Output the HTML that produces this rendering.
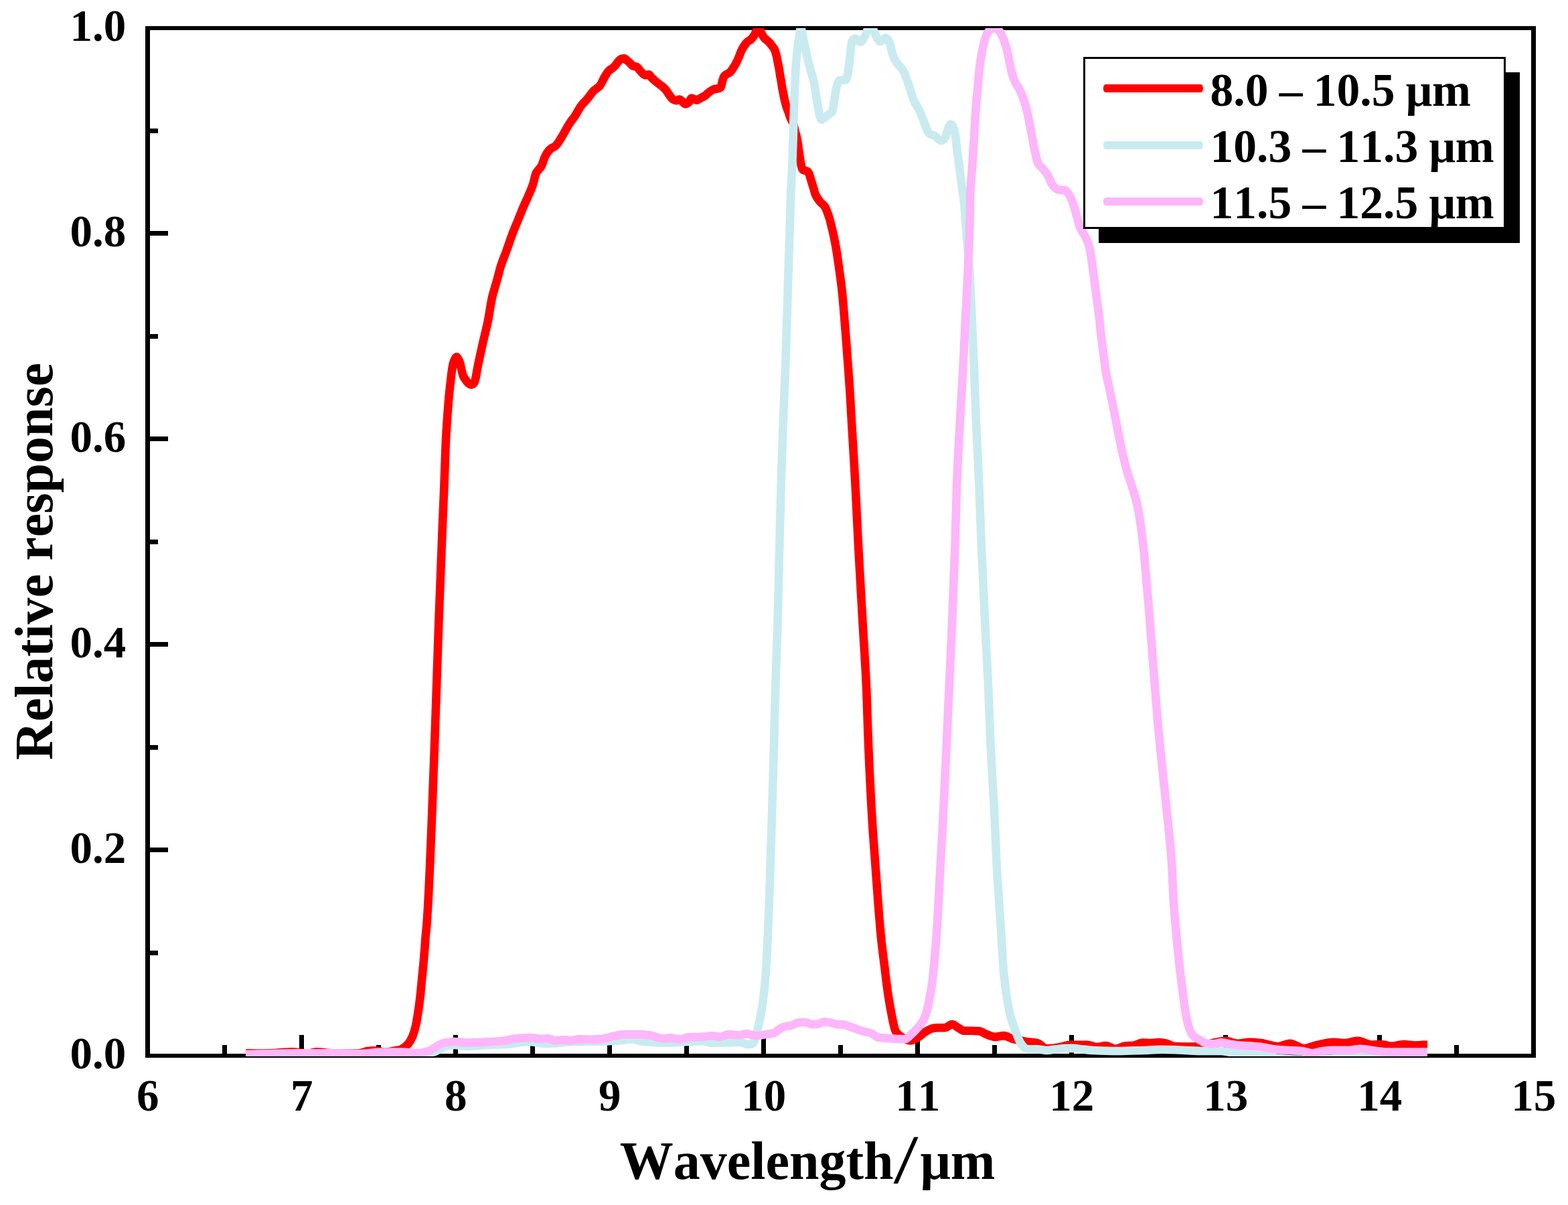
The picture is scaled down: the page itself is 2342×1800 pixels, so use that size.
<!DOCTYPE html>
<html lang="en"><head><meta charset="utf-8"><title>Relative response vs wavelength</title>
<style>html,body{margin:0;padding:0;background:#fff;}body{width:2342px;height:1800px;overflow:hidden;}svg{display:block;}text{font-family:"Liberation Serif","DejaVu Serif",serif;font-weight:bold;fill:#000;font-kerning:none;font-variant-ligatures:none;}</style></head><body>
<svg width="2342" height="1800" viewBox="0 0 2342 1800">
<rect x="0" y="0" width="2342" height="1800" fill="#fff"/>
<defs><clipPath id="plotclip"><rect x="217" y="42" width="2077" height="1536"/></clipPath></defs>
<g shape-rendering="crispEdges" fill="#000">
<rect x="217" y="39" width="2077" height="6"/>
<rect x="217" y="1574" width="2077" height="6"/>
<rect x="217" y="39" width="7" height="1541"/>
<rect x="2287" y="39" width="7" height="1541"/>
<rect x="217.0" y="1546" width="7" height="31"/>
<rect x="332.0" y="1561" width="7" height="16"/>
<rect x="447.0" y="1546" width="7" height="31"/>
<rect x="562.0" y="1561" width="7" height="16"/>
<rect x="677.0" y="1546" width="7" height="31"/>
<rect x="792.0" y="1561" width="7" height="16"/>
<rect x="907.0" y="1546" width="7" height="31"/>
<rect x="1022.0" y="1561" width="7" height="16"/>
<rect x="1137.0" y="1546" width="7" height="31"/>
<rect x="1252.0" y="1561" width="7" height="16"/>
<rect x="1367.0" y="1546" width="7" height="31"/>
<rect x="1482.0" y="1561" width="7" height="16"/>
<rect x="1597.0" y="1546" width="7" height="31"/>
<rect x="1712.0" y="1561" width="7" height="16"/>
<rect x="1827.0" y="1546" width="7" height="31"/>
<rect x="1942.0" y="1561" width="7" height="16"/>
<rect x="2057.0" y="1546" width="7" height="31"/>
<rect x="2172.0" y="1561" width="7" height="16"/>
<rect x="2287.0" y="1546" width="7" height="31"/>
<rect x="221" y="1419.5" width="15" height="7"/>
<rect x="221" y="1266.0" width="30" height="7"/>
<rect x="221" y="1112.5" width="15" height="7"/>
<rect x="221" y="959.0" width="30" height="7"/>
<rect x="221" y="805.5" width="15" height="7"/>
<rect x="221" y="652.0" width="30" height="7"/>
<rect x="221" y="498.5" width="15" height="7"/>
<rect x="221" y="345.0" width="30" height="7"/>
<rect x="221" y="191.5" width="15" height="7"/>
</g>
<g clip-path="url(#plotclip)" fill="none" stroke-width="12.6" stroke-linejoin="round" stroke-linecap="butt">
<path stroke="#ff0000" d="M367.0,1573.2L373.0,1573.2C379.3,1573.4 385.7,1573.5 392.0,1573.5C398.0,1573.5 404.0,1573.3 410.0,1573.0C414.7,1572.8 419.3,1572.2 424.0,1571.9C428.3,1571.6 432.6,1571.2 436.9,1571.2C440.6,1571.2 444.3,1572.1 448.0,1572.5C452.0,1572.9 456.0,1573.5 460.0,1573.5C464.6,1573.5 469.1,1571.2 473.7,1571.2C477.4,1571.2 481.2,1572.1 484.9,1572.4C489.9,1572.9 495.0,1573.6 500.0,1573.6C506.7,1573.6 513.3,1573.6 520.0,1573.6C525.3,1573.6 530.8,1573.5 536.0,1573.4C540.4,1573.3 544.5,1570.5 548.9,1570.0C552.1,1569.6 555.3,1569.2 558.5,1569.2C561.7,1569.2 564.9,1570.3 568.1,1570.8C570.8,1571.2 573.4,1571.9 576.1,1571.9C579.8,1571.9 583.6,1570.7 587.3,1570.0C591.1,1569.3 595.2,1568.8 598.6,1567.6C602.7,1566.2 607.0,1562.5 609.8,1559.2C612.4,1556.1 614.6,1551.9 616.2,1548.0C618.2,1542.9 619.8,1537.4 621.0,1532.0C622.5,1525.4 623.5,1518.7 624.5,1512.0C625.6,1504.6 626.7,1497.2 627.5,1489.8C628.2,1483.7 628.7,1477.6 629.3,1471.5C629.9,1465.4 630.5,1459.3 631.1,1453.2C631.7,1447.1 632.3,1441.0 632.8,1434.9C633.3,1428.8 633.9,1422.7 634.4,1416.6C634.9,1410.5 635.2,1404.4 635.7,1398.3C636.2,1392.2 637.1,1386.1 637.5,1380.0C641.0,1330.1 642.6,1280.0 644.7,1230.0C646.8,1180.0 648.4,1130.0 650.2,1080.0C652.0,1030.0 653.5,980.0 655.3,930.0C657.1,880.0 659.0,830.0 661.1,780.0C661.7,765.4 662.4,750.8 663.0,736.2C663.5,724.0 664.0,711.8 664.4,699.6C664.8,687.4 665.2,675.2 665.7,663.0C666.2,650.8 667.1,638.6 667.9,626.4C668.7,614.2 669.7,602.0 670.8,589.8C671.4,583.7 672.1,577.6 672.8,571.5C673.5,565.4 674.1,559.3 675.0,553.2C675.6,549.1 676.3,544.8 677.5,541.0C678.4,538.2 680.2,533.0 681.8,533.0C683.1,533.0 685.1,536.9 686.0,539.0C687.7,543.3 688.2,548.5 689.5,553.2C690.3,556.1 690.9,559.3 692.0,562.0C692.8,563.9 694.2,565.7 695.5,567.5C696.7,569.2 697.9,571.2 699.5,572.4C700.7,573.3 702.4,574.6 703.8,574.6C705.2,574.6 707.2,573.1 708.0,572.0C709.6,569.7 710.3,565.4 711.0,562.0C711.6,559.1 712.0,556.1 712.5,553.2C714.8,540.9 717.5,528.8 720.2,516.6C722.9,504.4 726.2,492.3 728.7,480.0C731.0,468.5 732.3,456.7 734.8,445.3C736.8,436.1 740.0,427.0 742.5,417.9C744.5,410.6 746.2,403.1 748.5,395.9C750.8,388.5 754.1,381.3 756.7,374.0C759.6,366.1 762.0,358.1 765.0,350.2C767.6,343.4 770.5,336.7 773.2,330.0C775.6,323.9 778.0,317.8 780.5,311.8C783.1,305.6 786.1,299.6 788.7,293.4C791.3,287.4 794.1,281.4 796.1,275.2C797.9,269.8 798.5,263.7 800.6,258.7C802.3,254.7 806.8,251.7 808.9,247.7C811.2,243.2 812.1,237.6 814.4,233.1C816.4,229.2 819.3,224.8 822.6,222.1C824.4,220.6 827.3,220.0 829.1,218.5C832.9,215.4 835.5,210.1 838.3,205.7C842.5,199.1 845.8,191.9 850.0,185.3C852.8,181.0 856.2,177.0 859.1,172.7C862.4,167.8 864.8,162.3 868.3,157.6C871.0,154.0 874.5,150.9 877.4,147.4C880.6,143.6 883.2,139.2 886.6,135.7C889.3,133.0 893.3,131.1 895.7,128.3C898.8,124.6 900.4,119.2 903.1,114.9C905.1,111.7 906.9,108.0 909.5,105.5C910.8,104.3 912.6,103.4 914.0,102.3C915.6,101.0 917.2,99.7 918.6,98.2C920.3,96.3 921.5,93.8 923.2,92.0C924.6,90.6 926.1,88.6 927.8,88.1C929.1,87.7 930.9,87.4 932.3,87.4C934.0,87.4 935.4,89.4 936.9,90.6C938.5,91.9 940.0,93.4 941.5,94.8C943.0,96.2 944.3,98.5 946.1,98.9C947.4,99.2 949.4,99.2 950.6,99.5C952.4,100.0 953.7,102.8 955.2,104.5C956.7,106.2 958.1,108.2 959.8,109.6C961.1,110.7 962.8,112.3 964.4,112.3C965.8,112.3 967.7,111.2 968.9,111.2C970.7,111.2 971.9,114.7 973.5,116.3C975.0,117.8 976.5,119.2 978.1,120.5C979.6,121.8 981.2,123.0 982.7,124.2C984.2,125.4 985.7,126.5 987.2,127.7C988.7,128.9 990.4,130.0 991.8,131.4C993.5,133.0 995.0,135.0 996.4,136.9C998.0,139.1 999.3,141.6 1001.0,143.7C1002.4,145.5 1003.7,147.8 1005.5,148.7C1006.8,149.4 1008.6,150.1 1010.1,150.1C1011.6,150.1 1013.3,148.5 1014.7,148.5C1016.4,148.5 1017.8,150.8 1019.3,152.0C1020.8,153.2 1022.2,155.5 1023.8,155.5C1025.2,155.5 1027.2,154.2 1028.4,153.3C1030.3,151.8 1031.1,146.6 1033.0,146.6C1034.2,146.6 1036.0,147.9 1037.6,148.5C1038.7,148.9 1039.9,149.6 1041.0,149.6C1042.2,149.6 1043.3,148.3 1044.5,147.7C1045.8,147.0 1047.0,146.2 1048.3,145.5C1049.8,144.6 1051.5,144.0 1052.9,143.0C1054.5,141.9 1055.9,140.3 1057.4,139.1C1058.9,137.9 1060.4,136.7 1062.0,135.7C1063.5,134.8 1065.0,133.5 1066.6,133.1C1068.0,132.8 1069.7,132.8 1071.2,132.5C1072.9,132.2 1075.4,131.5 1076.2,130.6C1077.7,129.0 1077.9,124.5 1078.9,121.5C1079.7,119.0 1080.2,116.0 1081.5,114.0C1082.2,112.8 1083.7,111.8 1084.9,111.0C1086.3,110.1 1088.2,109.7 1089.5,108.7C1091.3,107.4 1092.6,105.1 1094.0,103.2C1096.0,100.3 1097.9,97.2 1099.5,94.0C1101.0,91.1 1102.4,88.0 1103.7,84.9C1105.0,81.9 1105.9,78.6 1107.3,75.7C1108.8,72.5 1110.7,69.4 1112.8,66.6C1114.0,65.0 1115.4,63.3 1116.9,62.0C1118.3,60.8 1120.2,60.2 1121.5,59.0C1123.3,57.4 1124.7,55.3 1126.1,53.3C1128.6,49.8 1130.9,42.4 1133.1,42.4C1134.8,42.4 1136.3,48.2 1138.0,51.0C1139.3,53.2 1140.4,55.6 1142.1,57.4C1142.7,58.1 1143.6,58.7 1144.4,59.3C1145.9,60.6 1147.5,61.9 1148.9,63.4C1150.5,65.1 1152.1,67.0 1153.5,68.9C1155.0,71.0 1156.7,73.3 1157.6,75.7C1158.7,78.6 1159.4,81.8 1160.1,84.9C1160.8,87.9 1161.3,91.0 1161.9,94.0C1162.5,97.1 1163.3,100.1 1163.8,103.2C1164.3,106.2 1164.6,109.3 1165.1,112.3C1165.6,115.4 1166.3,118.4 1166.8,121.5C1167.3,124.5 1167.7,127.6 1168.2,130.6C1168.7,133.7 1169.4,136.7 1170.0,139.8C1170.6,142.8 1171.1,145.9 1171.8,148.9C1172.5,151.9 1173.2,155.0 1174.1,157.9C1175.0,161.0 1176.4,163.9 1177.5,167.0C1178.5,169.9 1179.3,172.9 1180.4,175.7C1181.6,178.8 1183.9,181.5 1184.9,184.6C1185.9,187.5 1186.3,190.6 1187.1,193.6C1187.8,196.6 1188.7,199.5 1189.4,202.5C1190.1,205.4 1190.7,208.4 1191.2,211.4C1191.7,214.4 1192.1,217.4 1192.5,220.4C1192.9,223.4 1193.4,226.3 1193.8,229.3C1194.2,232.3 1194.7,235.2 1195.2,238.2C1195.7,241.2 1196.0,244.2 1196.7,247.1C1197.2,249.2 1197.8,252.3 1198.9,253.4C1199.6,254.0 1201.3,254.3 1202.5,254.7C1203.7,255.2 1205.2,255.5 1206.1,256.1C1207.3,257.0 1208.2,258.9 1208.8,260.5C1209.4,261.9 1209.7,263.5 1210.1,265.0C1211.0,268.0 1212.0,270.9 1212.9,273.9C1213.8,276.9 1214.7,279.9 1215.6,282.9C1216.3,285.3 1216.8,287.8 1217.7,290.0C1219.2,293.8 1221.8,297.5 1224.3,300.8C1226.4,303.5 1229.8,305.4 1231.6,308.1C1234.0,311.8 1235.5,316.5 1237.1,320.9C1238.2,323.9 1239.1,326.9 1239.9,330.0C1243.1,342.0 1245.9,354.3 1248.1,366.6C1250.3,378.7 1251.9,391.0 1253.6,403.2C1255.3,415.4 1257.0,427.6 1258.2,439.8C1259.4,452.0 1260.3,464.2 1261.3,476.4C1262.3,488.6 1263.3,500.8 1264.2,513.0C1265.1,525.2 1266.0,537.4 1266.9,549.6C1267.8,561.8 1268.7,574.0 1269.5,586.2C1270.4,600.8 1271.2,615.4 1272.0,630.0C1273.8,660.5 1275.8,691.0 1277.4,721.5C1279.0,752.0 1280.3,782.5 1281.9,813.0C1283.9,852.0 1286.3,891.0 1288.5,930.0C1290.2,960.5 1292.4,991.0 1293.8,1021.5C1295.2,1052.0 1295.8,1082.5 1297.1,1113.0C1298.7,1152.0 1300.6,1191.0 1303.0,1230.0C1304.2,1250.0 1305.9,1270.0 1307.3,1290.0C1308.6,1308.3 1309.9,1326.6 1311.3,1344.9C1312.7,1363.2 1314.1,1381.5 1315.9,1399.8C1317.4,1415.1 1319.5,1430.3 1321.4,1445.5C1322.9,1457.7 1324.2,1469.9 1326.0,1482.1C1327.3,1491.3 1328.9,1500.5 1330.6,1509.6C1331.7,1515.7 1332.8,1521.9 1334.2,1527.9C1335.2,1532.2 1336.1,1537.1 1337.9,1540.7C1339.3,1543.5 1342.5,1546.0 1345.2,1548.0C1347.3,1549.5 1349.6,1551.0 1352.0,1552.0C1354.5,1553.0 1357.2,1554.4 1359.8,1554.4C1363.5,1554.4 1367.4,1551.7 1370.8,1549.8C1374.7,1547.7 1377.9,1543.9 1381.8,1541.6C1385.3,1539.5 1388.9,1536.9 1392.8,1536.1C1395.1,1535.7 1397.7,1535.2 1400.1,1535.2C1403.8,1535.2 1407.6,1535.2 1411.1,1535.2C1414.9,1535.2 1418.4,1530.1 1422.0,1530.1C1425.1,1530.1 1428.1,1533.6 1431.2,1535.2C1434.2,1536.8 1437.1,1539.8 1440.3,1539.8C1443.8,1539.8 1447.6,1539.8 1451.3,1539.8C1455.0,1539.8 1458.8,1540.0 1462.3,1540.3C1466.3,1540.6 1469.9,1543.9 1473.8,1545.3C1478.0,1546.7 1482.3,1548.9 1486.6,1548.9C1490.8,1548.9 1495.2,1547.1 1499.4,1547.1C1503.8,1547.1 1507.9,1550.5 1512.2,1551.7C1518.8,1553.5 1525.6,1554.8 1532.3,1555.9C1537.8,1556.8 1543.7,1556.9 1548.8,1558.0C1554.0,1559.1 1558.2,1566.3 1563.4,1566.3C1568.0,1566.3 1573.2,1565.6 1578.1,1565.0C1585.5,1564.1 1592.6,1560.8 1600.0,1560.8C1607.9,1560.8 1616.0,1560.8 1623.8,1560.8C1628.8,1560.8 1633.6,1564.0 1638.5,1564.0C1642.7,1564.0 1647.1,1562.1 1651.3,1562.1C1656.3,1562.1 1661.0,1566.7 1665.9,1566.7C1670.8,1566.7 1675.6,1563.2 1680.6,1562.6C1684.8,1562.1 1689.2,1562.2 1693.4,1561.7C1697.8,1561.2 1701.8,1557.5 1706.2,1557.5C1710.4,1557.5 1714.7,1558.0 1719.0,1558.0C1723.3,1558.0 1727.6,1557.1 1731.8,1557.1C1735.5,1557.1 1739.2,1558.2 1742.8,1559.0C1746.5,1559.9 1750.0,1562.8 1753.7,1563.0C1762.0,1563.4 1770.9,1563.5 1779.4,1563.5C1784.6,1563.5 1789.9,1562.7 1795.0,1562.0C1799.4,1561.4 1803.6,1559.8 1808.0,1558.8C1813.3,1557.6 1818.6,1556.4 1824.0,1555.6C1826.1,1555.3 1828.3,1554.8 1830.4,1554.8C1836.3,1554.8 1842.1,1558.8 1848.0,1558.8C1854.3,1558.8 1860.8,1556.8 1867.2,1556.8C1872.6,1556.8 1878.0,1557.4 1883.3,1558.0C1891.9,1558.9 1900.4,1563.2 1908.9,1563.2C1914.8,1563.2 1920.7,1558.8 1926.5,1558.8C1933.5,1558.8 1940.3,1566.0 1947.3,1566.0C1953.6,1566.0 1960.1,1562.5 1966.5,1561.2C1975.0,1559.5 1983.5,1556.8 1992.1,1556.8C1997.9,1556.8 2003.9,1558.0 2009.7,1558.0C2015.6,1558.0 2021.5,1554.8 2027.3,1554.8C2034.9,1554.8 2042.2,1560.7 2049.8,1560.7C2054.0,1560.7 2058.4,1560.0 2062.6,1560.0C2068.0,1560.0 2073.3,1562.8 2078.6,1562.8C2084.5,1562.8 2090.3,1560.0 2096.2,1560.0C2102.0,1560.0 2107.9,1561.6 2113.8,1561.6C2117.8,1561.6 2121.8,1561.3 2125.8,1560.7L2132.0,1560.7"/>
<path stroke="#c9ebef" d="M367.0,1578.0L373.0,1578.0C435.3,1578.0 497.7,1578.0 560.0,1578.0C573.3,1578.0 586.7,1577.5 600.0,1577.0C610.0,1576.6 620.1,1576.0 630.0,1575.0C636.6,1574.3 643.4,1572.9 649.6,1570.9C651.8,1570.2 653.8,1568.7 656.0,1567.7C660.2,1565.7 664.4,1562.8 668.8,1562.1C672.4,1561.5 676.3,1561.0 680.0,1561.0C685.3,1561.0 690.7,1562.9 696.0,1562.9C701.3,1562.9 706.7,1562.4 712.0,1562.1C720.0,1561.6 728.1,1560.9 736.1,1560.5C744.1,1560.1 752.1,1560.2 760.1,1559.7C765.5,1559.4 770.7,1557.8 776.1,1557.3C781.4,1556.8 786.8,1556.2 792.1,1556.2C798.5,1556.2 804.9,1558.6 811.3,1558.6C818.2,1558.6 825.2,1558.4 832.1,1558.1C837.4,1557.9 842.8,1556.7 848.1,1556.5C853.4,1556.3 858.8,1556.3 864.1,1556.2C869.5,1556.1 874.8,1555.8 880.2,1555.7C888.2,1555.6 896.2,1555.6 904.2,1555.4C909.5,1555.3 914.9,1554.9 920.2,1554.6C928.2,1554.1 936.3,1552.5 944.2,1552.5C949.6,1552.5 954.8,1555.1 960.2,1555.7C965.5,1556.3 970.9,1556.6 976.2,1557.0C980.8,1557.3 985.4,1557.8 990.0,1557.8C996.0,1557.8 1002.1,1557.5 1008.1,1557.3C1016.1,1557.0 1024.2,1556.2 1032.2,1555.7C1037.5,1555.4 1042.9,1554.9 1048.2,1554.9C1053.6,1554.9 1058.8,1557.8 1064.2,1557.8C1072.1,1557.8 1080.2,1557.5 1088.2,1557.3C1093.5,1557.1 1099.0,1556.5 1104.2,1556.5C1108.4,1556.5 1112.3,1559.9 1116.5,1559.9C1118.9,1559.9 1122.4,1559.5 1123.8,1559.0C1126.5,1558.1 1127.9,1550.6 1129.3,1546.2C1130.8,1541.4 1131.8,1536.4 1132.9,1531.5C1134.6,1524.2 1136.3,1516.9 1137.5,1509.6C1139.0,1500.5 1140.2,1491.3 1141.2,1482.1C1142.5,1469.9 1143.5,1457.7 1144.3,1445.5C1145.3,1430.3 1146.0,1415.0 1146.7,1399.8C1147.6,1381.5 1148.3,1363.2 1149.0,1344.9C1149.7,1326.6 1150.1,1308.3 1150.7,1290.0C1151.3,1270.0 1152.0,1250.0 1152.6,1230.0C1153.8,1191.0 1154.9,1152.0 1156.0,1113.0C1156.8,1082.5 1157.5,1052.0 1158.4,1021.5C1159.3,991.0 1160.6,960.5 1161.5,930.0C1162.6,891.0 1163.3,852.0 1164.3,813.0C1165.1,782.5 1165.8,752.0 1166.7,721.5C1167.6,691.0 1168.7,660.5 1169.8,630.0C1170.8,603.2 1172.1,576.4 1173.1,549.6C1174.0,525.2 1174.7,500.8 1175.4,476.4C1176.1,452.0 1176.8,427.6 1177.6,403.2C1178.4,378.8 1179.2,354.4 1180.0,330.0C1180.5,315.4 1180.8,300.8 1181.3,286.2C1181.8,274.0 1182.6,261.8 1183.1,249.6C1183.9,231.3 1184.4,213.0 1185.0,194.7C1185.4,183.1 1185.6,171.6 1186.0,160.0C1186.4,147.2 1187.0,134.3 1187.6,121.5C1187.9,115.4 1188.1,109.3 1188.5,103.2C1188.9,97.1 1189.3,91.0 1189.8,84.9C1190.1,81.8 1190.4,78.8 1190.8,75.7C1191.5,69.6 1192.3,63.5 1193.2,57.4C1193.6,54.4 1194.0,51.3 1194.6,48.3C1195.0,46.2 1195.5,42.0 1196.1,42.0C1196.7,42.0 1197.5,46.2 1198.0,48.3C1198.7,51.3 1199.2,54.4 1199.8,57.4C1201.1,63.5 1202.5,69.6 1203.8,75.7C1204.4,78.8 1205.0,81.8 1205.7,84.9C1207.1,91.0 1208.6,97.1 1210.2,103.2C1211.8,109.3 1214.2,115.3 1215.5,121.5C1216.8,127.5 1217.5,133.7 1218.5,139.8C1219.6,146.5 1220.5,153.3 1221.9,160.0C1223.2,166.3 1224.3,178.6 1227.0,178.6C1228.4,178.6 1232.6,174.8 1235.3,172.8C1237.8,171.0 1241.6,169.4 1242.6,167.2C1244.7,162.6 1245.1,155.0 1246.3,148.9C1247.6,142.2 1248.1,135.1 1249.9,128.8C1250.8,125.6 1252.4,119.7 1254.5,119.7C1256.2,119.7 1261.5,119.7 1262.7,119.7C1265.3,119.7 1266.3,108.8 1267.3,103.2C1268.6,96.0 1269.0,88.5 1270.0,81.2C1270.9,74.5 1271.0,66.1 1272.8,61.1C1273.3,59.6 1275.8,57.4 1277.4,57.4C1279.8,57.4 1282.6,62.9 1284.7,62.9C1287.4,62.9 1290.0,57.0 1292.0,53.8C1293.9,50.7 1294.6,44.0 1297.0,44.0C1298.3,44.0 1301.6,44.0 1303.0,44.0C1305.6,44.0 1306.5,50.7 1308.5,53.8C1310.4,56.7 1312.4,62.0 1314.9,62.0C1317.2,62.0 1320.9,56.5 1323.1,56.5C1325.7,56.5 1328.1,63.0 1329.5,66.6C1331.2,71.1 1331.6,76.5 1333.2,81.2C1334.7,85.6 1337.1,90.1 1339.6,94.0C1342.1,97.9 1346.4,101.0 1348.7,105.0C1351.0,108.9 1352.6,113.5 1354.2,117.8C1356.2,123.2 1357.9,128.8 1359.7,134.3C1361.5,139.8 1362.9,145.5 1365.2,150.8C1367.1,155.2 1370.3,159.2 1372.5,163.6C1374.5,167.7 1376.3,172.1 1378.0,176.4C1379.9,181.2 1381.3,186.4 1383.5,191.0C1385.0,194.2 1386.6,198.5 1389.0,200.2C1390.7,201.5 1394.1,201.8 1396.3,202.9C1399.6,204.6 1402.4,210.2 1405.4,210.2C1407.9,210.2 1411.5,206.3 1412.8,203.8C1414.6,200.4 1414.7,194.9 1416.4,191.0C1417.2,189.0 1418.9,185.5 1420.1,185.5C1422.0,185.5 1424.8,191.4 1425.6,194.7C1427.7,203.1 1428.0,213.0 1429.2,222.1C1430.4,231.3 1431.7,240.4 1432.9,249.6C1434.1,258.7 1435.4,267.9 1436.6,277.0C1437.8,286.2 1439.4,295.3 1440.2,304.5C1441.0,313.0 1441.4,321.5 1442.0,330.0C1443.8,354.4 1446.6,378.8 1448.1,403.2C1449.6,427.6 1450.6,452.0 1451.7,476.4C1452.8,500.8 1453.9,525.2 1454.9,549.6C1456.0,576.4 1456.9,603.2 1458.0,630.0C1459.3,660.5 1460.9,691.0 1462.2,721.5C1463.5,752.0 1464.5,782.5 1465.8,813.0C1467.5,852.0 1469.3,891.0 1471.2,930.0C1472.7,960.5 1474.5,991.0 1475.9,1021.5C1477.3,1052.0 1478.2,1082.5 1479.6,1113.0C1481.4,1152.0 1484.1,1191.0 1486.0,1230.0C1487.0,1250.0 1487.6,1270.0 1488.6,1290.0C1489.5,1308.3 1490.9,1326.6 1492.1,1344.9C1493.3,1363.2 1494.5,1381.5 1495.7,1399.8C1496.9,1418.1 1497.8,1436.5 1499.4,1454.7C1500.5,1466.9 1502.1,1479.2 1504.0,1491.3C1505.4,1500.5 1507.2,1509.7 1509.5,1518.7C1511.6,1526.8 1514.7,1534.7 1517.7,1542.5C1519.9,1548.1 1521.8,1554.4 1525.0,1559.0C1527.2,1562.1 1530.7,1567.2 1534.2,1567.2C1538.3,1567.2 1544.0,1567.2 1548.8,1567.2C1553.7,1567.2 1558.5,1569.0 1563.4,1569.0C1568.3,1569.0 1573.2,1567.6 1578.1,1567.2C1585.4,1566.6 1592.7,1565.9 1600.0,1565.9C1604.9,1565.9 1609.8,1566.7 1614.7,1567.2C1620.8,1567.8 1626.9,1568.7 1633.0,1569.0C1645.2,1569.6 1657.4,1570.0 1669.6,1570.0C1681.8,1570.0 1694.0,1569.4 1706.2,1569.0C1715.9,1568.7 1725.7,1567.8 1735.4,1567.8C1743.9,1567.8 1752.5,1568.2 1761.0,1568.5C1773.2,1568.9 1785.4,1570.0 1797.6,1570.0C1806.4,1570.0 1815.3,1570.0 1824.0,1570.0C1832.1,1570.0 1840.0,1573.2 1848.0,1574.0C1858.6,1575.1 1869.4,1575.3 1880.0,1576.4C1890.7,1577.5 1901.3,1580.4 1912.0,1581.2C1922.6,1582.0 1933.3,1582.8 1944.0,1582.8C1960.0,1582.8 1976.0,1581.9 1992.0,1581.2C2005.3,1580.7 2018.7,1579.1 2032.0,1579.1C2040.0,1579.1 2048.0,1581.6 2056.0,1582.0C2069.3,1582.6 2082.7,1583.0 2096.0,1583.0C2105.9,1583.0 2115.9,1583.0 2125.8,1583.0L2132.0,1583.0"/>
<path stroke="#fdb6fa" d="M367.2,1574.8L373.2,1574.8C397.6,1574.0 422.1,1573.2 446.5,1573.2C465.7,1573.2 484.9,1573.2 504.1,1573.2C514.8,1573.2 525.4,1574.0 536.1,1574.0C546.8,1574.0 557.4,1572.1 568.1,1571.9C578.8,1571.7 589.5,1571.6 600.2,1571.6C608.2,1571.6 616.3,1573.2 624.2,1573.2C629.6,1573.2 635.2,1571.5 640.2,1570.0C645.9,1568.3 650.7,1563.4 656.2,1560.8C658.8,1559.6 661.5,1558.1 664.2,1557.6C669.3,1556.7 674.9,1556.0 680.2,1556.0C685.5,1556.0 690.9,1557.5 696.2,1557.5C700.8,1557.5 705.4,1557.3 710.0,1557.2C716.0,1557.0 722.0,1556.7 728.0,1556.4C736.0,1556.0 744.1,1555.6 752.1,1554.8C757.5,1554.2 762.7,1552.2 768.1,1551.6C776.0,1550.8 784.1,1550.0 792.1,1550.0C797.4,1550.0 802.8,1551.9 808.1,1551.9C811.8,1551.9 815.7,1551.2 819.3,1551.2C822.6,1551.2 825.6,1554.4 828.9,1554.4C833.1,1554.4 837.4,1553.2 841.7,1553.2C845.4,1553.2 849.2,1554.3 852.9,1554.3C856.7,1554.3 860.3,1552.4 864.1,1552.4C869.4,1552.4 874.8,1552.7 880.2,1552.7C885.5,1552.7 890.9,1552.6 896.2,1552.4C901.6,1552.2 906.8,1549.9 912.2,1548.8C919.1,1547.4 926.0,1545.1 933.0,1545.1C939.4,1545.1 945.8,1545.1 952.2,1545.1C958.1,1545.1 964.1,1545.7 970.0,1546.3C977.5,1547.1 984.7,1551.6 992.1,1551.6C994.7,1551.6 997.4,1550.4 1000.1,1550.4C1005.4,1550.4 1010.8,1552.4 1016.1,1552.4C1020.4,1552.4 1024.6,1549.4 1028.9,1549.2C1035.2,1548.9 1041.8,1549.0 1048.2,1548.8C1053.5,1548.6 1058.9,1547.2 1064.2,1547.2C1067.9,1547.2 1071.7,1548.8 1075.4,1548.8C1079.7,1548.8 1083.9,1545.1 1088.2,1545.1C1093.4,1545.1 1098.9,1546.3 1104.2,1546.3C1108.0,1546.3 1111.7,1544.3 1115.4,1544.3C1119.7,1544.3 1123.9,1547.2 1128.2,1547.2C1134.0,1547.2 1139.9,1545.8 1145.7,1544.9C1148.8,1544.4 1152.0,1544.1 1154.9,1543.4C1160.2,1542.1 1164.3,1536.0 1169.5,1534.3C1173.5,1533.0 1178.1,1532.6 1182.3,1531.5C1186.7,1530.4 1190.8,1527.3 1195.2,1527.3C1197.6,1527.3 1200.1,1527.3 1202.5,1527.3C1206.2,1527.3 1209.7,1530.1 1213.4,1530.1C1215.8,1530.1 1218.4,1529.9 1220.8,1529.7C1224.5,1529.4 1228.0,1526.4 1231.7,1526.4C1234.1,1526.4 1236.7,1526.9 1239.1,1527.3C1242.8,1527.9 1246.3,1529.8 1250.0,1530.1C1253.0,1530.4 1256.2,1530.3 1259.2,1530.6C1263.6,1531.0 1267.8,1533.2 1272.0,1534.6C1276.9,1536.2 1281.7,1538.4 1286.6,1539.8C1291.4,1541.2 1296.7,1541.8 1301.3,1543.4C1305.2,1544.8 1308.4,1549.2 1312.3,1549.8C1317.4,1550.6 1323.2,1550.7 1328.7,1551.1C1333.6,1551.4 1338.5,1552.0 1343.4,1552.0C1346.4,1552.0 1349.8,1552.0 1352.5,1552.0C1355.2,1552.0 1357.5,1548.2 1359.8,1546.2C1363.7,1542.8 1367.5,1539.1 1370.8,1535.2C1374.2,1531.2 1377.9,1527.0 1380.0,1522.4C1382.4,1517.3 1384.0,1511.5 1385.4,1505.9C1386.9,1499.9 1388.0,1493.7 1389.1,1487.6C1390.5,1479.7 1391.8,1471.8 1392.8,1463.8C1394.3,1451.6 1395.3,1439.4 1396.4,1427.2C1397.4,1415.0 1398.4,1402.8 1399.2,1390.6C1400.2,1375.4 1401.1,1360.1 1401.9,1344.9C1402.9,1326.6 1403.7,1308.3 1404.7,1290.0C1405.8,1270.0 1407.1,1250.0 1408.2,1230.0C1410.3,1191.0 1411.9,1152.0 1413.7,1113.0C1415.1,1082.5 1416.5,1052.0 1417.9,1021.5C1419.3,991.0 1420.8,960.5 1422.1,930.0C1423.7,891.0 1425.2,852.0 1426.5,813.0C1427.5,782.5 1428.1,752.0 1429.2,721.5C1430.3,691.0 1432.2,660.5 1433.8,630.0C1435.2,603.2 1437.0,576.4 1438.4,549.6C1439.7,525.2 1440.8,500.8 1442.0,476.4C1443.2,452.0 1444.6,427.6 1445.7,403.2C1446.8,378.8 1447.9,354.4 1448.5,330.0C1448.9,315.4 1448.9,300.8 1449.4,286.2C1449.8,274.0 1451.3,261.8 1452.1,249.6C1452.9,237.4 1453.7,225.2 1454.4,213.0C1455.1,200.8 1455.8,188.6 1456.6,176.4C1457.2,167.6 1457.7,158.8 1458.4,150.0C1458.9,144.2 1459.8,138.3 1460.3,132.5C1460.7,127.6 1461.0,122.7 1461.4,117.8C1461.8,112.9 1462.3,108.1 1462.8,103.2C1463.4,98.3 1464.1,93.5 1464.8,88.6C1465.6,83.7 1466.4,78.8 1467.4,73.9C1468.4,69.0 1469.6,64.1 1471.0,59.3C1471.7,56.8 1472.4,54.3 1473.4,52.0C1474.3,50.1 1475.6,48.1 1477.0,46.5C1478.1,45.3 1479.5,43.9 1481.0,43.2C1482.1,42.7 1483.4,42.0 1484.6,42.0C1485.9,42.0 1487.3,42.7 1488.5,43.2C1490.0,43.9 1491.4,45.3 1492.5,46.5C1493.9,48.1 1495.1,50.1 1496.1,52.0C1497.3,54.3 1498.2,56.8 1499.1,59.3C1500.9,64.1 1502.5,69.0 1503.8,73.9C1505.0,78.7 1505.9,83.7 1506.9,88.6C1507.9,93.5 1508.8,98.4 1510.0,103.2C1511.2,108.1 1512.4,113.1 1514.1,117.8C1515.0,120.3 1516.4,122.8 1517.7,125.2C1519.0,127.7 1520.8,130.0 1522.1,132.5C1523.3,134.9 1524.4,137.3 1525.4,139.8C1526.8,143.2 1528.3,146.5 1529.4,150.0C1531.3,155.6 1532.8,161.4 1534.2,167.2C1535.9,174.5 1537.3,181.9 1538.7,189.2C1540.0,195.9 1541.1,202.6 1542.4,209.3C1543.6,215.4 1544.7,221.5 1546.1,227.6C1547.4,233.1 1548.4,239.4 1550.6,244.1C1552.0,247.2 1555.7,249.4 1558.0,252.3C1560.6,255.5 1563.2,258.9 1565.3,262.4C1568.1,267.0 1569.4,273.1 1572.6,277.0C1574.6,279.5 1577.7,282.9 1580.8,283.4C1583.8,283.9 1588.3,283.8 1590.9,284.3C1593.9,284.9 1596.3,290.2 1598.2,293.5C1600.2,297.0 1601.8,301.1 1603.2,305.0C1605.1,310.5 1606.4,316.3 1608.0,322.0C1609.8,328.1 1611.1,334.5 1613.4,340.3C1615.2,344.8 1618.7,348.7 1620.8,353.1C1623.3,358.4 1625.9,363.9 1627.2,369.5C1628.9,376.6 1629.7,384.2 1630.8,391.5C1632.2,400.6 1633.3,409.8 1634.5,418.9C1635.7,428.1 1637.0,437.2 1638.2,446.4C1639.4,455.5 1640.8,464.7 1641.8,473.8C1642.9,483.0 1643.5,492.1 1644.6,501.3C1645.6,510.4 1647.0,519.6 1648.2,528.7C1649.4,537.9 1650.4,547.1 1651.9,556.2C1653.1,563.5 1655.0,570.8 1656.5,578.1C1658.0,585.4 1659.5,592.7 1661.0,600.0C1663.5,612.2 1665.9,624.4 1668.3,636.6C1670.8,648.8 1673.0,661.1 1675.7,673.2C1677.9,683.0 1680.3,692.8 1683.0,702.5C1685.4,711.1 1688.6,719.5 1691.2,728.1C1693.4,735.4 1695.9,742.6 1697.6,750.0C1699.4,757.8 1700.9,765.8 1702.2,773.8C1703.7,782.9 1704.8,792.1 1705.9,801.3C1707.0,810.4 1708.1,819.6 1709.0,828.7C1709.9,837.9 1710.5,847.0 1711.3,856.2C1711.9,863.5 1712.6,870.8 1713.2,878.1C1713.8,885.4 1714.6,892.7 1715.2,900.0C1717.8,930.5 1719.9,961.0 1722.3,991.5C1724.7,1022.0 1726.9,1052.5 1729.6,1083.0C1733.1,1122.0 1737.7,1161.0 1741.5,1200.0C1744.5,1230.0 1748.2,1259.9 1750.1,1290.0C1751.3,1308.3 1751.7,1326.6 1752.8,1344.9C1753.9,1363.2 1755.7,1381.5 1757.4,1399.8C1758.8,1415.0 1760.3,1430.3 1762.0,1445.5C1763.4,1457.7 1765.0,1469.9 1766.6,1482.1C1767.8,1491.3 1768.7,1500.5 1770.2,1509.6C1771.4,1516.9 1772.7,1524.5 1774.8,1531.5C1776.3,1536.6 1778.3,1542.5 1781.2,1546.2C1783.2,1548.8 1787.1,1550.7 1790.3,1552.6C1793.8,1554.7 1797.4,1557.3 1801.3,1558.1C1804.8,1558.8 1808.7,1559.4 1812.3,1559.4C1816.2,1559.4 1820.1,1557.2 1824.0,1557.2C1828.6,1557.2 1833.2,1559.2 1837.9,1559.9C1841.3,1560.4 1844.6,1560.9 1848.0,1561.2C1858.6,1562.3 1869.4,1562.5 1880.0,1563.6C1890.7,1564.7 1901.3,1567.6 1912.0,1568.4C1922.6,1569.2 1933.4,1569.1 1944.0,1570.0C1949.4,1570.5 1954.7,1573.2 1960.0,1573.2C1965.3,1573.2 1970.6,1570.6 1976.0,1570.0C1981.3,1569.4 1986.7,1568.8 1992.0,1568.8C2000.0,1568.8 2008.0,1568.8 2016.0,1568.8C2021.4,1568.8 2026.7,1566.8 2032.0,1566.8C2040.0,1566.8 2048.0,1569.1 2056.0,1570.0C2061.3,1570.6 2066.7,1571.6 2072.0,1571.6C2080.0,1571.6 2088.0,1571.6 2096.0,1571.6C2105.9,1571.6 2115.9,1571.6 2125.8,1571.6L2132.0,1571.6"/>
</g>
<g font-size="67px" text-anchor="middle">
<text x="220.8" y="1659.3">6</text>
<text x="450.8" y="1659.3">7</text>
<text x="680.8" y="1659.3">8</text>
<text x="910.8" y="1659.3">9</text>
<text x="1140.8" y="1659.3">10</text>
<text x="1370.8" y="1659.3">11</text>
<text x="1600.8" y="1659.3">12</text>
<text x="1830.8" y="1659.3">13</text>
<text x="2060.8" y="1659.3">14</text>
<text x="2290.8" y="1659.3">15</text>
</g>
<g font-size="67px" text-anchor="end">
<text x="188.3" y="1596.3">0.0</text>
<text x="188.3" y="1289.3">0.2</text>
<text x="188.3" y="982.3">0.4</text>
<text x="188.3" y="675.3">0.6</text>
<text x="188.3" y="368.3">0.8</text>
<text x="188.3" y="61.3">1.0</text>
</g>
<text x="925.7" y="1760.9" font-size="80px">Wavelength<tspan font-weight="normal" font-size="102.8px" dy="5.9" textLength="37.1" lengthAdjust="spacingAndGlyphs">/</tspan><tspan dx="2.7" dy="-5.9">μm</tspan></text>
<text transform="translate(77.9,1135.2) rotate(-90)" font-size="79.4px">Relative response</text>
<g shape-rendering="crispEdges">
<rect x="1641" y="108" width="629" height="255" fill="#000"/>
<rect x="1619.5" y="86.5" width="628" height="254" fill="#fff" stroke="#000" stroke-width="3"/>
</g>
<rect x="1647.8" y="125.9" width="149.2" height="12.2" rx="3.6" ry="6.1" fill="#ff0000"/>
<rect x="1647.8" y="210.9" width="149.2" height="12.2" rx="3.6" ry="6.1" fill="#c9ebef"/>
<rect x="1647.8" y="294.9" width="149.2" height="12.2" rx="3.6" ry="6.1" fill="#fdb6fa"/>
<g font-size="69.5px" word-spacing="-1.1px">
<text x="1807.6" y="157.5">8.0 – 10.5 μm</text>
<text x="1807.6" y="242.3">10.3 – 11.3 μm</text>
<text x="1807.6" y="326.3">11.5 – 12.5 μm</text>
</g>
</svg></body></html>
